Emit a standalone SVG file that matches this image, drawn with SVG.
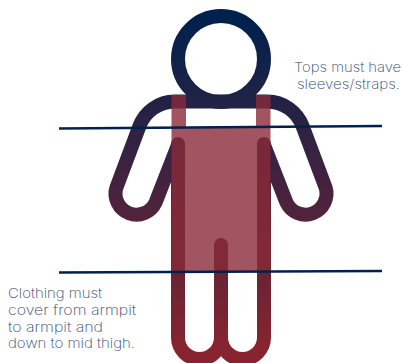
<svg xmlns="http://www.w3.org/2000/svg" width="403" height="363" viewBox="0 0 403 363">
<style>
.fig{fill:none;stroke:url(#g);stroke-width:14;stroke-linecap:round;stroke-linejoin:round}
.cover{fill:#8a2a38;fill-opacity:.8}
.rule{stroke:#00214d;stroke-width:2.6;fill:none}
text{font-family:"Inter","Open Sans",sans-serif;font-weight:200;font-size:13.500px;fill:#2f4670}
</style>
<defs>
<linearGradient id="g" gradientUnits="userSpaceOnUse" x1="0" y1="20" x2="0" y2="350">
<stop offset="0" stop-color="#00214d"/>
<stop offset="1" stop-color="#88242f"/>
</linearGradient>
</defs>
<rect width="403" height="363" fill="#fff"/>
<g id="figure">
<circle class="fig" cx="221" cy="59" r="43"/>
<path class="fig" d="M178 145L155.600 202.400A21 21 0 0 1 116.400 187.600L139.400 126.200A38 38 0 0 1 174.700 101.500H267.300A38 38 0 0 1 302.600 126.200L325.600 187.600A21 21 0 0 1 286.400 202.400L264 145"/>
<path class="fig" d="M178 144V337.500A21.500 21.500 0 0 0 221 337.500V245M221 337.500A21.500 21.500 0 0 0 264 337.500V144"/>
</g>
<g id="clothing">
<path class="cover" d="M171.500 95H186V127H256V95H270.500V272H171.500Z"/>
</g>
<g id="connectors">
<path class="rule" d="M59 128.500L382 126"/>
<path class="rule" d="M59 272.500L382 271"/>
</g>
<g id="label-tops">
<text x="294" y="72" textLength="107" lengthAdjust="spacingAndGlyphs">Tops must have</text>
<text x="297" y="88.500" textLength="103" lengthAdjust="spacingAndGlyphs">sleeves/straps.</text>
</g>
<g id="label-clothing">
<text x="8" y="298" textLength="94" lengthAdjust="spacingAndGlyphs">Clothing must</text>
<text x="8" y="315" textLength="128" lengthAdjust="spacingAndGlyphs">cover from armpit</text>
<text x="8" y="331.500" textLength="95" lengthAdjust="spacingAndGlyphs">to armpit and</text>
<text x="8" y="348" textLength="127" lengthAdjust="spacingAndGlyphs">down to mid thigh.</text>
</g>
</svg>
